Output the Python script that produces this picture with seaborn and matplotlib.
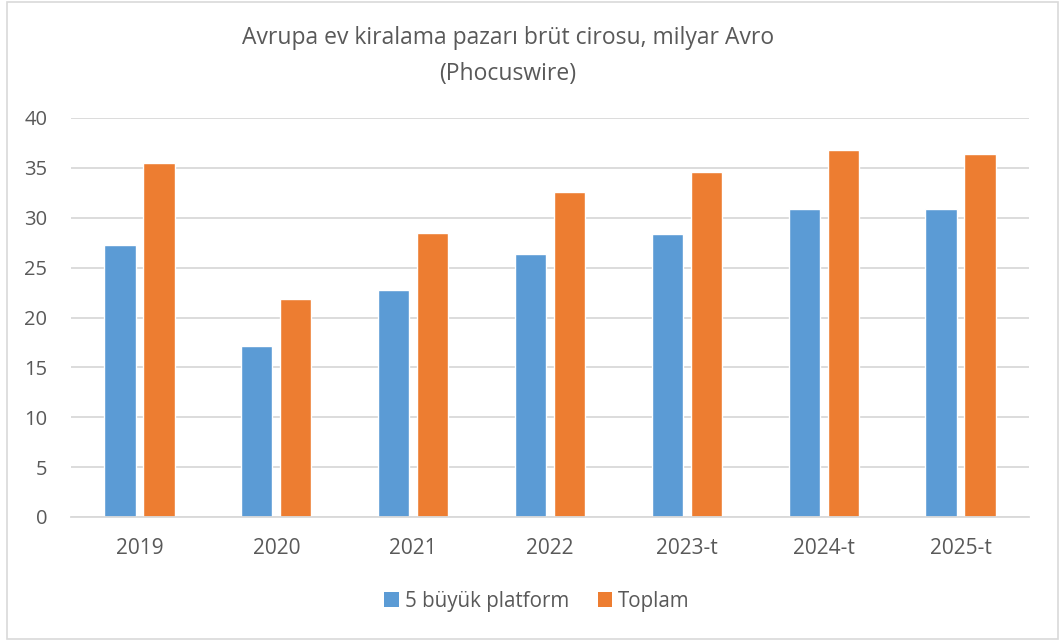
import pandas as pd
import matplotlib
matplotlib.use("Agg")
import matplotlib.pyplot as plt
from matplotlib.patches import Rectangle, Patch
import seaborn as sns

# data
years = ["2019", "2020", "2021", "2022", "2023-t", "2024-t", "2025-t"]
top5 = [27.3, 17.1, 22.8, 26.4, 28.4, 30.9, 30.9]
total = [35.5, 21.9, 28.5, 32.6, 34.6, 36.8, 36.4]
series_names = ["5 büyük platform", "Toplam"]
colors = ["#5B9BD5", "#ED7D31"]
title_lines = ["Avrupa ev kiralama pazarı brüt cirosu, milyar Avro", "(Phocuswire)"]

df = pd.DataFrame({
    "year": years * 2,
    "value": top5 + total,
    "series": [series_names[0]] * len(years) + [series_names[1]] * len(years),
})

sns.set_theme(style="white")
plt.rcParams["font.family"] = ["Open Sans", "DejaVu Sans"]
text_col = "#595959"

W, H = 1062, 641
fig = plt.figure(figsize=(W / 100, H / 100), dpi=100)
ax = fig.add_axes([71 / W, 1 - 517 / H, (1029 - 71) / W, (517 - 118) / H])

sns.barplot(data=df, x="year", y="value", hue="series", palette=colors,
            width=0.57, gap=0.2, saturation=1, ax=ax, legend=False)

ax.set_ylim(0, 40)
ax.set_yticks(range(0, 41, 5))
ax.set_xlim(-0.5, len(years) - 0.5)
ax.yaxis.grid(True, color="#D9D9D9", linewidth=1.3)
ax.set_axisbelow(True)
for s in ["top", "right", "left"]:
    ax.spines[s].set_visible(False)
ax.spines["bottom"].set_color("#D9D9D9")
ax.spines["bottom"].set_linewidth(1.3)
ax.set_xlabel("")
ax.set_ylabel("")
ax.tick_params(axis="both", length=0, colors=text_col)
ax.tick_params(axis="y", labelsize=14.5, pad=17)
ax.tick_params(axis="x", labelsize=15, pad=15)

# two-line title, slightly left of centre as in the source
fig.text(508 / W, 1 - 44 / H, title_lines[0], ha="center", va="baseline",
         fontsize=16.5, color=text_col)
fig.text(508 / W, 1 - 80 / H, title_lines[1], ha="center", va="baseline",
         fontsize=16.5, color=text_col)

handles = [Patch(facecolor=c, edgecolor="none") for c in colors]
fig.legend(handles, series_names, loc="center", bbox_to_anchor=(537 / W, 1 - 601 / H),
           ncol=2, frameon=False, fontsize=14.8, labelcolor=text_col,
           handlelength=0.7, handleheight=0.7, handletextpad=0.3, columnspacing=1.4)

# outer chart border
fig.patches.append(Rectangle((7 / W, 2 / H), 1051 / W, 637 / H,
                             transform=fig.transFigure, fill=False,
                             edgecolor="#D9D9D9", linewidth=1.2))

fig.savefig("out.png", dpi=100)
